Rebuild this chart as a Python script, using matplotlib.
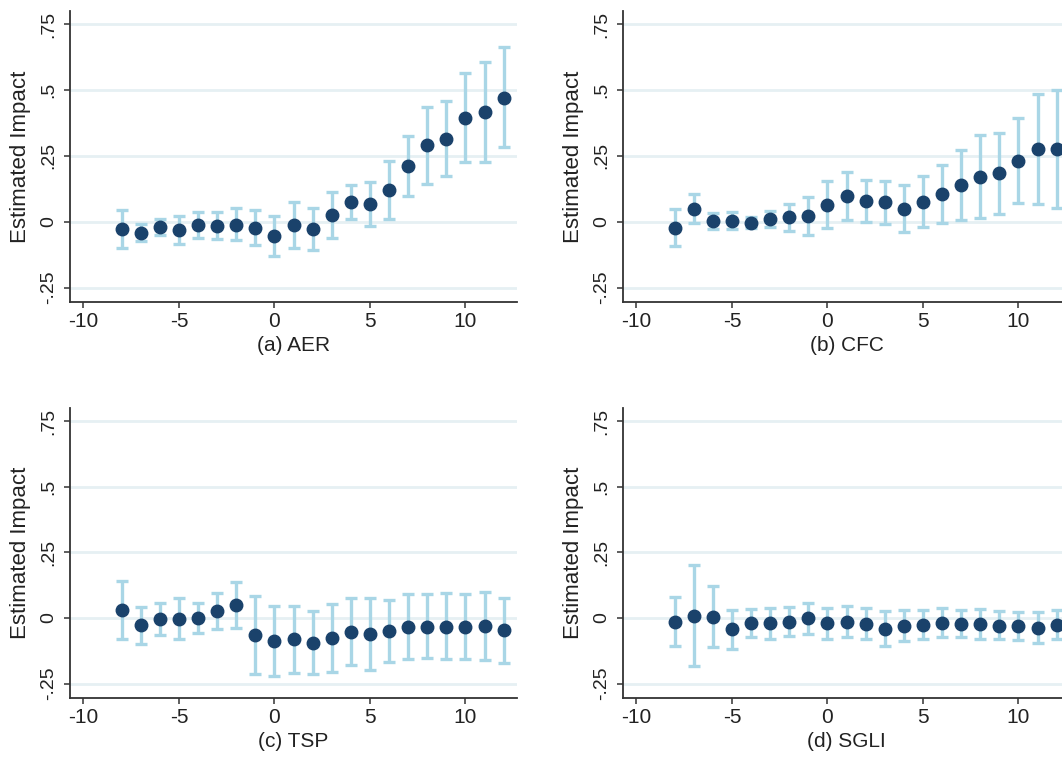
import matplotlib
matplotlib.use('Agg')
import matplotlib.pyplot as plt
import numpy as np

plt.rcParams['font.family'] = ['Liberation Sans', 'DejaVu Sans']
plt.rcParams['axes.unicode_minus'] = False

# event time
t = list(range(-8, 13))

# (a) AER
aer = [-0.028, -0.042, -0.019, -0.030, -0.014, -0.016, -0.011, -0.024, -0.053, -0.013, -0.029,
       0.025, 0.074, 0.068, 0.120, 0.213, 0.291, 0.314, 0.394, 0.417, 0.471]
aer_lo = [-0.100, -0.075, -0.051, -0.085, -0.062, -0.066, -0.071, -0.090, -0.131, -0.101, -0.108,
          -0.062, 0.010, -0.016, 0.010, 0.096, 0.144, 0.172, 0.227, 0.227, 0.283]
aer_hi = [0.043, -0.009, 0.010, 0.022, 0.035, 0.035, 0.051, 0.043, 0.022, 0.075, 0.051,
          0.113, 0.138, 0.151, 0.231, 0.326, 0.437, 0.458, 0.563, 0.607, 0.662]

# (b) CFC
cfc = [-0.023, 0.049, 0.004, 0.004, -0.004, 0.011, 0.016, 0.023, 0.065, 0.099, 0.080,
       0.074, 0.049, 0.076, 0.105, 0.138, 0.171, 0.184, 0.230, 0.275, 0.275]
cfc_lo = [-0.094, -0.005, -0.028, -0.028, -0.024, -0.019, -0.034, -0.051, -0.025, 0.008, -0.001,
          -0.009, -0.039, -0.020, -0.005, 0.005, 0.013, 0.030, 0.072, 0.069, 0.051]
cfc_hi = [0.048, 0.104, 0.032, 0.036, 0.016, 0.042, 0.067, 0.094, 0.155, 0.190, 0.159,
          0.156, 0.138, 0.174, 0.214, 0.272, 0.331, 0.338, 0.392, 0.483, 0.500]

# (c) TSP
tsp = [0.029, -0.028, -0.004, -0.004, -0.001, 0.027, 0.048, -0.065, -0.088, -0.081, -0.095,
       -0.077, -0.052, -0.062, -0.049, -0.033, -0.033, -0.033, -0.033, -0.030, -0.047]
tsp_lo = [-0.081, -0.100, -0.065, -0.081, -0.057, -0.041, -0.038, -0.213, -0.220, -0.208, -0.214,
          -0.207, -0.178, -0.197, -0.168, -0.156, -0.154, -0.156, -0.156, -0.162, -0.171]
tsp_hi = [0.141, 0.043, 0.057, 0.075, 0.057, 0.094, 0.136, 0.084, 0.044, 0.044, 0.027,
          0.053, 0.075, 0.075, 0.067, 0.091, 0.091, 0.094, 0.091, 0.099, 0.076]

# (d) SGLI
sgli = [-0.015, 0.008, 0.004, -0.043, -0.019, -0.020, -0.014, -0.001, -0.019, -0.014, -0.023,
        -0.041, -0.030, -0.025, -0.019, -0.024, -0.024, -0.029, -0.032, -0.037, -0.025]
sgli_lo = [-0.107, -0.184, -0.112, -0.118, -0.074, -0.079, -0.070, -0.060, -0.079, -0.074, -0.079,
           -0.107, -0.088, -0.079, -0.074, -0.074, -0.079, -0.081, -0.084, -0.095, -0.081]
sgli_hi = [0.079, 0.202, 0.122, 0.032, 0.034, 0.039, 0.043, 0.057, 0.039, 0.047, 0.037,
           0.027, 0.032, 0.032, 0.039, 0.032, 0.034, 0.027, 0.022, 0.022, 0.032]

titles = ['(a) AER', '(b) CFC', '(c) TSP', '(d) SGLI']
series = [(aer, aer_lo, aer_hi), (cfc, cfc_lo, cfc_hi),
          (tsp, tsp_lo, tsp_hi), (sgli, sgli_lo, sgli_hi)]

yticks = [-0.25, 0, 0.25, 0.5, 0.75]
yticklabels = ['-.25', '0', '.25', '.5', '.75']
xticks = [-10, -5, 0, 5, 10]

navy = '#1a426b'
ciblue = '#a9d6e6'
gridc = '#e6f0f3'

W, H = 1062, 757
fig = plt.figure(figsize=(W / 100, H / 100), dpi=100)

# axes boxes in pixels: left, top, right, bottom (right column runs off the page, as in the source)
boxes = [(70, 11, 517, 302), (623, 11, 1070, 302),
         (70, 408, 517, 698), (623, 408, 1070, 698)]

for i, (box, title, (est, lo, hi)) in enumerate(zip(boxes, titles, series)):
    l, tp, r, b = box
    ax = fig.add_axes([l / W, 1 - b / H, (r - l) / W, (b - tp) / H])
    est = np.array(est)
    yerr = [est - np.array(lo), np.array(hi) - est]
    for g in yticks:
        ax.axhline(g, color=gridc, lw=2, zorder=0)
    ax.errorbar(t, est, yerr=yerr, fmt='o', color=navy, ms=9,
                ecolor=ciblue, elinewidth=2.4, capsize=4.5, capthick=2.4, zorder=3)
    ax.set_xlim(-10.7, 12.7)
    ax.set_ylim(-0.305, 0.80)
    ax.set_xticks(xticks)
    ax.set_yticks(yticks)
    ax.set_yticklabels(yticklabels, rotation=90, va='center')
    ax.tick_params(axis='both', direction='out', length=4.5, width=1.1,
                   color='#333333', labelsize=14, labelcolor='#222222')
    ax.tick_params(axis='y', pad=5)
    ax.tick_params(axis='x', labelsize=15, pad=3)
    for s in ['top', 'right']:
        ax.spines[s].set_visible(False)
    for s in ['left', 'bottom']:
        ax.spines[s].set_color('#333333')
        ax.spines[s].set_linewidth(1.3)
    ax.set_xlabel(title, fontsize=15, color='#222222', labelpad=3)
    ax.set_ylabel('Estimated Impact', fontsize=16, color='#222222', labelpad=6)

fig.savefig('out.png', dpi=100, facecolor='white')
